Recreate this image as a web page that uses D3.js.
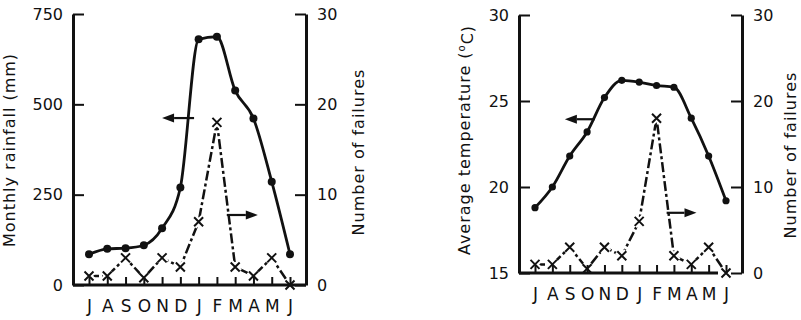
<!DOCTYPE html>
<html>
<head>
<meta charset="utf-8">
<script src="https://cdn.jsdelivr.net/npm/d3@7"></script>
<style>
    body { margin: 0; background: #fff; }
    svg { display: block; font-family: "DejaVu Sans", sans-serif; }
    .axis text { fill: #111; }
    .axis line { stroke: #111; stroke-width: 2; }
    .axis path { stroke: #111; stroke-width: 3; }
    .title { fill: #111; font-size: 16px; letter-spacing: 1px; }
</style>
</head>
<body>
<div id="chart"></div>
<script>
// values (month July .. June)
const months = ["J", "A", "S", "O", "N", "D", "J", "F", "M", "A", "M", "J"];
const rainfall = [85, 100, 102, 110, 157, 270, 680, 687, 538, 461, 286, 85];
const failuresRain = [1, 1, 3, 0.8, 3, 2, 7, 18, 2, 1, 3, 0];
const temperature = [18.8, 20.0, 21.8, 23.2, 25.2, 26.2, 26.1, 25.9, 25.8, 24.0, 21.8, 19.2];
const failuresTemp = [1, 1, 3, 0.5, 3, 2, 6, 18, 2, 1, 3, 0];
const rainTicks = [0, 250, 500, 750];
const tempTicks = [15, 20, 25, 30];
const failureTicks = [0, 10, 20, 30];

const width = 801, height = 320;

const svg = d3.select("#chart").append("svg")
    .attr("width", width)
    .attr("height", height);

svg.append("rect").attr("width", width).attr("height", height).attr("fill", "#fff");

const xMark = "M-4.5,-4.5L4.5,4.5M-4.5,4.5L4.5,-4.5";

function drawArrow(g, x1, x2, y) {
    const dir = Math.sign(x2 - x1);
    const head = 12;
    g.append("line")
        .attr("x1", x1).attr("x2", x2 - dir * head)
        .attr("y1", y).attr("y2", y)
        .attr("stroke", "#111").attr("stroke-width", 2.2);
    g.append("path")
        .attr("d", `M${x2},${y}L${x2 - dir * head},${y - 4.5}L${x2 - dir * head},${y + 4.5}Z`)
        .attr("fill", "#111");
}

function drawPanel(p) {
    const x = d3.scaleLinear().domain([0, months.length - 1]).range([p.left + 16, p.right - 16]);
    const y = d3.scaleLinear().domain(p.domain).range([p.bottom, p.top]);
    const yF = d3.scaleLinear().domain([0, 30]).range([p.bottom, p.top]);

    const g = svg.append("g");

    // failures: dash-dot line, broken round each cross
    g.append("path")
        .datum(p.failures)
        .attr("d", d3.line().x((d, i) => x(i)).y(d => yF(d)))
        .attr("fill", "none")
        .attr("stroke", "#111")
        .attr("stroke-width", 2.5)
        .attr("stroke-dasharray", "10,3,3,3");

    g.selectAll(".halo").data(p.failures).enter()
        .append("path")
        .attr("class", "halo")
        .attr("transform", (d, i) => `translate(${x(i)},${yF(d)})`)
        .attr("d", xMark)
        .attr("stroke", "#fff")
        .attr("stroke-width", 6);

    // main series: smooth line with filled dots
    g.append("path")
        .datum(p.values)
        .attr("d", d3.line().x((d, i) => x(i)).y(d => y(d)).curve(d3.curveMonotoneX))
        .attr("fill", "none")
        .attr("stroke", "#111")
        .attr("stroke-width", 2.8);

    g.selectAll(".dot").data(p.values).enter()
        .append("circle")
        .attr("class", "dot")
        .attr("cx", (d, i) => x(i))
        .attr("cy", d => y(d))
        .attr("r", p.dotR)
        .attr("fill", "#111");

    g.selectAll(".cross").data(p.failures).enter()
        .append("path")
        .attr("class", "cross")
        .attr("transform", (d, i) => `translate(${x(i)},${yF(d)})`)
        .attr("d", xMark)
        .attr("stroke", "#111")
        .attr("stroke-width", 2);

    // arrows telling which axis belongs to which curve
    drawArrow(g, x(p.leftArrow[0]), x(p.leftArrow[1]), y(p.leftArrow[2]));
    drawArrow(g, x(p.rightArrow[0]), x(p.rightArrow[1]), yF(p.rightArrow[2]));

    // axes
    const leftAxis = g.append("g")
        .attr("class", "axis")
        .attr("transform", `translate(${p.left},0)`)
        .call(d3.axisLeft(y).tickValues(p.ticks).tickSizeInner(-11).tickSizeOuter(0).tickPadding(10));

    const rightAxis = g.append("g")
        .attr("class", "axis")
        .attr("transform", `translate(${p.right},0)`)
        .call(d3.axisRight(yF).tickValues(failureTicks).tickSizeInner(-11).tickSizeOuter(0).tickPadding(11));

    const bottomAxis = g.append("g")
        .attr("class", "axis")
        .attr("transform", `translate(0,${p.bottom})`)
        .call(d3.axisBottom(x).tickValues(d3.range(months.length)).tickFormat(i => months[i])
            .tickSizeInner(-8).tickSizeOuter(0).tickPadding(15));
    bottomAxis.select(".domain").remove();
    bottomAxis.append("line")
        .attr("x1", p.left).attr("x2", p.bottomEnd)
        .attr("y1", 0).attr("y2", 0)
        .style("stroke-width", 3);

    [leftAxis, rightAxis].forEach(a => a.attr("font-size", 16).attr("font-family", null));
    bottomAxis.attr("font-size", 17).attr("font-family", null);

    // rotated titles
    const lt = svg.append("text")
        .attr("class", "title")
        .attr("text-anchor", "middle")
        .attr("dy", "0.35em")
        .attr("transform", `translate(${p.leftTitle[0]},${p.leftTitle[1]}) rotate(-90)`);
    p.titleParts.forEach(t => {
        lt.append("tspan")
            .attr("dy", t.dy || 0)
            .style("font-size", t.size || null)
            .text(t.text);
    });

    svg.append("text")
        .attr("class", "title")
        .attr("text-anchor", "middle")
        .attr("dy", "0.35em")
        .attr("transform", `translate(${p.rightTitle[0]},${p.rightTitle[1]}) rotate(-90)`)
        .text("Number of failures");
}

drawPanel({
    left: 73, right: 306, top: 14, bottom: 285, bottomEnd: 306,
    domain: [0, 750], ticks: rainTicks, values: rainfall, failures: failuresRain, dotR: 4,
    leftArrow: [5.75, 4.0, 462], rightArrow: [7.54, 9.24, 7.75],
    leftTitle: [15, 150], rightTitle: [358, 152],
    titleParts: [{ text: "Monthly rainfall (mm)" }]
});

drawPanel({
    left: 519, right: 742, top: 15, bottom: 273, bottomEnd: 718,
    domain: [15, 30], ticks: tempTicks, values: temperature, failures: failuresTemp, dotR: 3.6,
    leftArrow: [3.44, 1.72, 23.94], rightArrow: [7.58, 9.3, 7.0],
    leftTitle: [470, 140], rightTitle: [790, 155],
    titleParts: [
        { text: "Average temperature (" },
        { text: "o", size: "10px", dy: "-0.55em" },
        { text: "C)", dy: "0.55em" }
    ]
});
</script>
</body>
</html>
